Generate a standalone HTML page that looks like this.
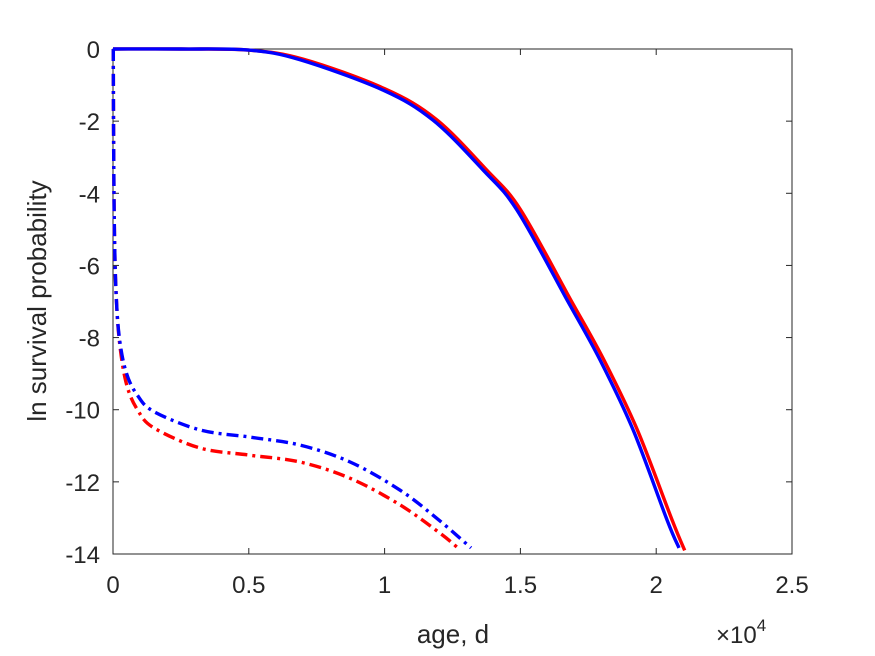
<!DOCTYPE html>
<html><head><meta charset="utf-8"><style>
body{margin:0;background:#fff}
svg{display:block;font-family:"Liberation Sans",Arial,sans-serif}
</style></head><body>
<svg width="875" height="656" viewBox="0 0 875 656">
<rect width="875" height="656" fill="#fff"/>
<g id="axes"></g>
<g id="series"></g>
<text x="453" y="643" font-size="26" fill="#262626" text-anchor="middle">age, d</text>
<text transform="translate(46,301) rotate(-90)" font-size="26" fill="#262626" text-anchor="middle">ln survival probability</text>
<text x="716" y="643" font-size="24" fill="#262626">×10<tspan dy="-12" font-size="17">4</tspan></text>
</svg>
<script>
const xTicks=[0,0.5,1,1.5,2,2.5];
const xTickLabels=["0","0.5","1","1.5","2","2.5"];
const yTicks=[0,-2,-4,-6,-8,-10,-12,-14];
const yTickLabels=["0","-2","-4","-6","-8","-10","-12","-14"];
const redSolidX=[0,0.25,0.5,0.7,1.0,1.19,1.375,1.5,1.685,1.806,1.93,2.058,2.105];
const redSolidY=[0,0,-0.03,-0.28,-1.1,-1.95,-3.35,-4.45,-6.95,-8.6,-10.55,-13.05,-13.9];
const blueSolidX=[0,0.25,0.5,0.689,0.994,1.178,1.362,1.487,1.672,1.793,1.915,2.04,2.084];
const blueSolidY=[0,0,-0.03,-0.3,-1.14,-1.97,-3.35,-4.46,-6.96,-8.62,-10.56,-13.06,-13.83];
const redDashX=[0.001,0.002,0.005,0.012,0.025,0.05,0.09,0.15,0.32,0.504,0.689,0.873,1.057,1.2,1.27];
const redDashY=[0,-2,-5,-6.9,-8.2,-9.3,-10.0,-10.5,-11.06,-11.26,-11.45,-11.9,-12.64,-13.4,-13.83];
const blueDashX=[0.001,0.002,0.005,0.012,0.025,0.05,0.09,0.15,0.32,0.504,0.689,0.873,1.057,1.2,1.318];
const blueDashY=[0,-2,-5,-6.9,-8.1,-9.0,-9.6,-10.05,-10.56,-10.76,-10.98,-11.45,-12.23,-13.06,-13.83];
const L=113,R=792,T=49,B=554;
const sx=v=>L+(v-0)/(2.5-0)*(R-L);
const sy=v=>T+(0-v)/(0-(-14))*(B-T);
const NS="http://www.w3.org/2000/svg";
const ax=document.getElementById('axes');
function mk(tag,attrs,parent){const e=document.createElementNS(NS,tag);for(const k in attrs)e.setAttribute(k,attrs[k]);parent.appendChild(e);return e;}
const box=mk('rect',{x:L,y:T,width:R-L,height:B-T,fill:'none',stroke:'#262626','stroke-width':1},ax);


xTicks.forEach((t,i)=>{
  const x=sx(t);
  mk('line',{x1:x,x2:x,y1:B,y2:B-6,stroke:'#262626'},ax);
  mk('line',{x1:x,x2:x,y1:T,y2:T+6,stroke:'#262626'},ax);
  const tx=mk('text',{x:x,y:B+39,'font-size':24,fill:'#262626','text-anchor':'middle'},ax);
  tx.textContent=xTickLabels[i];
  
  
});
yTicks.forEach((t,i)=>{
  const y=sy(t);
  mk('line',{x1:L,x2:L+6,y1:y,y2:y,stroke:'#262626'},ax);
  mk('line',{x1:R,x2:R-6,y1:y,y2:y,stroke:'#262626'},ax);
  const tx=mk('text',{x:L-13,y:y+9,'font-size':24,fill:'#262626','text-anchor':'end'},ax);
  tx.textContent=yTickLabels[i];
  
  
});
const sg=document.getElementById('series');
function path(xs,ys){
  const P=xs.map((x,i)=>[sx(x),sy(ys[i])]);
  let d='M'+P[0][0].toFixed(1)+','+P[0][1].toFixed(1);
  for(let i=0;i<P.length-1;i++){
    const p0=P[Math.max(0,i-1)],p1=P[i],p2=P[i+1],p3=P[Math.min(P.length-1,i+2)];
    const c1=[p1[0]+(p2[0]-p0[0])/6,p1[1]+(p2[1]-p0[1])/6];
    const c2=[p2[0]-(p3[0]-p1[0])/6,p2[1]-(p3[1]-p1[1])/6];
    d+='C'+c1[0].toFixed(1)+','+c1[1].toFixed(1)+' '+c2[0].toFixed(1)+','+c2[1].toFixed(1)+' '+p2[0].toFixed(1)+','+p2[1].toFixed(1);
  }
  return d;
}
function line(xs,ys,color,dash,name){
  const p=mk('path',{d:path(xs,ys),fill:'none',stroke:color,'stroke-width':3.4,'stroke-linejoin':'round'},sg);
  if(dash)p.setAttribute('stroke-dasharray',dash);
  
  
}
line(redSolidX,redSolidY,'#ff0000',null,'red-solid-line');
line(blueSolidX,blueSolidY,'#0000ff',null,'blue-solid-line');
line(redDashX,redDashY,'#ff0000','12,5,3,5','red-dashdot-line');
line(blueDashX,blueDashY,'#0000ff','12,5,3,5','blue-dashdot-line');
</script>
</body></html>
